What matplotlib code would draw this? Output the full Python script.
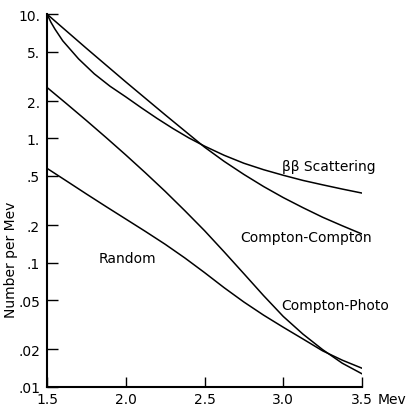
import numpy as np
import matplotlib.pyplot as plt

# energy (Mev) and counts per Mev
bb_x = [1.5, 1.525, 1.55, 1.6, 1.7, 1.8, 1.9, 2.0, 2.1, 2.2, 2.3, 2.4, 2.5,
        2.625, 2.75, 2.875, 3.0, 3.125, 3.25, 3.375, 3.5]
bb_y = [10.0, 8.6, 7.59, 6.10, 4.37, 3.31, 2.63, 2.16, 1.76, 1.445, 1.20, 1.01, 0.867,
        0.731, 0.631, 0.560, 0.505, 0.459, 0.423, 0.391, 0.363]

cc_x = [1.5, 1.75, 2.0, 2.25, 2.5, 2.625, 2.75, 2.875, 3.0, 3.125, 3.25, 3.375, 3.5]
cc_y = [10.0, 5.31, 2.85, 1.549, 0.851, 0.653, 0.513, 0.410, 0.334, 0.277, 0.232, 0.198, 0.170]

cp_x = [1.5, 1.625, 1.75, 1.875, 2.0, 2.125, 2.25, 2.375, 2.5, 2.625, 2.75, 2.875, 3.0, 3.125, 3.25, 3.375, 3.5]
cp_y = [2.57, 1.897, 1.393, 1.016, 0.736, 0.528, 0.375, 0.262, 0.181, 0.122, 0.0815, 0.0543, 0.0369, 0.0266, 0.01995, 0.0155, 0.01274]

rnd_x = [1.5, 1.625, 1.75, 1.875, 2.0, 2.125, 2.25, 2.375, 2.5, 2.625, 2.75, 2.875, 3.0, 3.125, 3.25, 3.375, 3.5]
rnd_y = [0.574, 0.453, 0.357, 0.2825, 0.2244, 0.1782, 0.1406, 0.1091, 0.0832, 0.0628, 0.0482, 0.0378, 0.0302, 0.0243, 0.0195, 0.0164, 0.01413]

yticks = [10, 5, 2, 1, 0.5, 0.2, 0.1, 0.05, 0.02, 0.01]
ytick_labels = ["10.", "5.", "2.", "1.", ".5", ".2", ".1", ".05", ".02", ".01"]
xticks = [1.5, 2.0, 2.5, 3.0, 3.5]
xtick_labels = ["1.5", "2.0", "2.5", "3.0", "3.5"]

fig = plt.figure(figsize=(4.09, 4.10), dpi=100)
ax = fig.add_axes([0.115, 0.054, 0.77, 0.909])

for xs, ys in [(bb_x, bb_y), (cc_x, cc_y), (cp_x, cp_y), (rnd_x, rnd_y)]:
    ax.plot(xs, ys, color="black", lw=1.1)

ax.set_yscale("log")
ax.set_xlim(1.5, 3.5)
ax.set_ylim(0.01, 10)
ax.set_yticks(yticks)
ax.set_yticklabels(ytick_labels)
ax.minorticks_off()
ax.set_xticks(xticks)
ax.set_xticklabels(xtick_labels)
ax.tick_params(direction="in", length=8, width=1, labelsize=10, pad=5)
ax.tick_params(axis="x", length=7, pad=4)

for s in ["top", "right"]:
    ax.spines[s].set_visible(False)
for s in ["left", "bottom"]:
    ax.spines[s].set_linewidth(1.5)

ax.set_ylabel("Number per Mev", fontsize=10)
ax.yaxis.set_label_coords(-0.092, 0.343)

# "Mev" unit written after the last x tick label
ax.annotate("Mev", xy=(3.5, 0), xycoords=("data", "axes fraction"),
            xytext=(11.5, -4), textcoords="offset points",
            ha="left", va="top", fontsize=10)

ax.text(2.99, 0.60, "ββ Scattering", ha="left", va="center", fontsize=10)
ax.text(2.725, 0.16, "Compton-Compton", ha="left", va="center", fontsize=10)
ax.text(2.99, 0.046, "Compton-Photo", ha="left", va="center", fontsize=10)
ax.text(1.826, 0.109, "Random", ha="left", va="center", fontsize=10)

fig.savefig("out.png", dpi=100)
